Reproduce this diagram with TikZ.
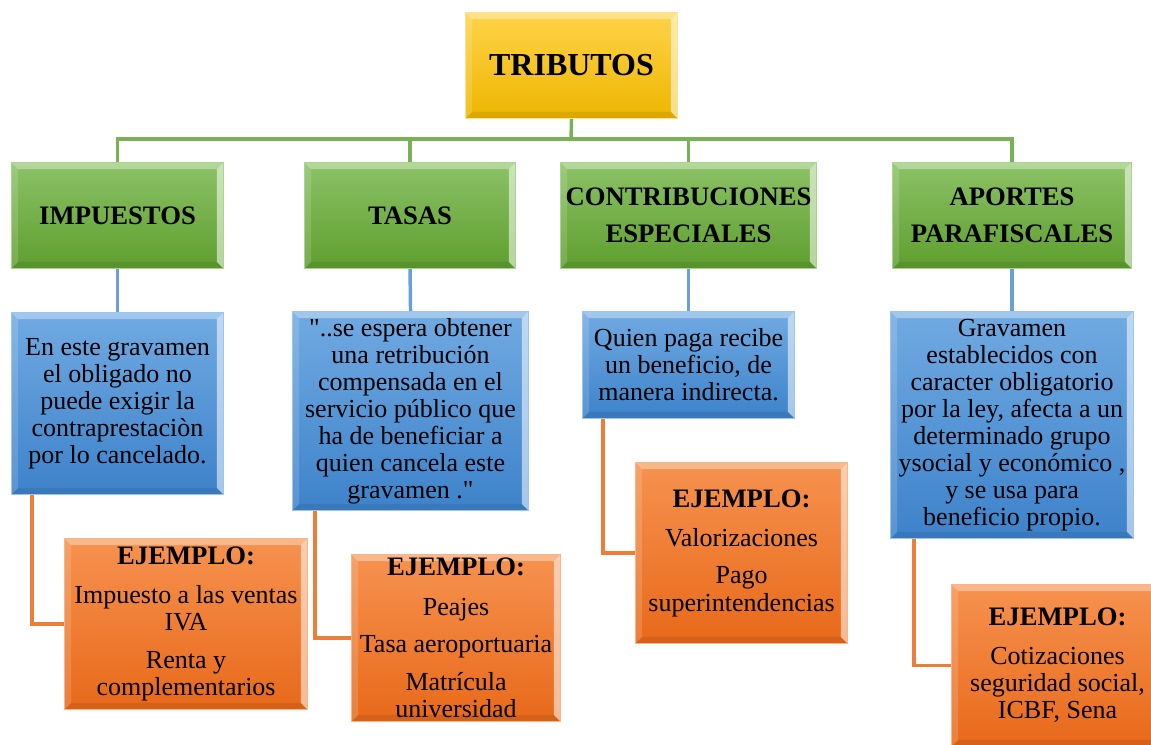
\documentclass[tikz,border=0pt]{standalone}
\usepackage{fontspec}
\setmainfont{Liberation Serif}[Ligatures=TeXOff]
\usetikzlibrary{calc}
\pgfdeclarelayer{background}
\pgfsetlayers{background,main}

\definecolor{TribTop}{HTML}{FFD34A}
\definecolor{TribBot}{HTML}{EDB600}
\definecolor{TribEdge}{HTML}{FFE38C}
\definecolor{GreenTop}{HTML}{8CC267}
\definecolor{GreenBot}{HTML}{5E9E2E}
\definecolor{GreenEdge}{HTML}{A9D68A}
\definecolor{BlueTop}{HTML}{71AAE2}
\definecolor{BlueBot}{HTML}{3D82CA}
\definecolor{BlueEdge}{HTML}{9CC6EE}
\definecolor{OrangeTop}{HTML}{F6924F}
\definecolor{OrangeBot}{HTML}{E8691A}
\definecolor{OrangeEdge}{HTML}{F9B58A}
\definecolor{GreenLine}{HTML}{79B254}
\definecolor{BlueLine}{HTML}{6A9FD8}
\definecolor{OrangeLine}{HTML}{EE7D38}

\newcommand{\bev}{5pt}
\newcommand{\ejemplo}{{\fontsize{20}{20.3}\selectfont\bfseries EJEMPLO:}}

\begin{document}
\begin{tikzpicture}[x=0.75pt, y=-0.75pt,
    every node/.style={inner sep=0pt, align=center, text=black},
    boxsize/.style 2 args={minimum width=#1*0.75pt, minimum height=#2*0.75pt, anchor=north west},
    bevel/.style={line width=0.8pt, path picture={
        \path (path picture bounding box.north west) coordinate (bnw)
              (path picture bounding box.north east) coordinate (bne)
              (path picture bounding box.south west) coordinate (bsw)
              (path picture bounding box.south east) coordinate (bse);
        \fill[white, opacity=0.35] (bnw) -- (bne) -- ($(bne)+(-\bev,-\bev)$) -- ($(bnw)+(\bev,-\bev)$) -- cycle;
        \fill[white, opacity=0.55] (bne) -- (bse) -- ($(bse)+(-\bev,\bev)$) -- ($(bne)+(-\bev,-\bev)$) -- cycle;
        \fill[white, opacity=0.15] (bnw) -- (bsw) -- ($(bsw)+(\bev,\bev)$) -- ($(bnw)+(\bev,-\bev)$) -- cycle;
        \fill[black, opacity=0.08] (bsw) -- (bse) -- ($(bse)+(-\bev,\bev)$) -- ($(bsw)+(\bev,\bev)$) -- cycle;
    }},
    tributo/.style={bevel, top color=TribTop, bottom color=TribBot, draw=TribEdge,
        font=\fontsize{24}{28}\selectfont\bfseries},
    tipo/.style={bevel, top color=GreenTop, bottom color=GreenBot, draw=GreenEdge,
        font=\fontsize{20}{28}\selectfont\bfseries},
    definicion/.style={bevel, top color=BlueTop, bottom color=BlueBot, draw=BlueEdge,
        font=\fontsize{19.5}{20.3}\selectfont},
    ejemplo/.style={bevel, top color=OrangeTop, bottom color=OrangeBot, draw=OrangeEdge,
        font=\fontsize{19.5}{20.3}\selectfont},
    greenline/.style={GreenLine, line width=2.6pt},
    blueline/.style={BlueLine, line width=2.6pt},
    orangeline/.style={OrangeLine, line width=2.4pt}
]
    \useasboundingbox (0,0) rectangle (1151,744);

    % root
    \node[tributo, boxsize={212}{106}] (tributos) at (465,12) {TRIBUTOS};

    % tipos de tributo
    \node[tipo, boxsize={212}{106}] (impuestos) at (11,162) {IMPUESTOS};
    \node[tipo, boxsize={211}{106}] (tasas) at (304,162) {TASAS};
    \node[tipo, boxsize={256}{106}] (contrib) at (560,162) {CONTRIBUCIONES\\ESPECIALES};
    \node[tipo, boxsize={239}{106}] (aportes) at (892,162) {APORTES\\PARAFISCALES};

    % definiciones
    \node[definicion, boxsize={212}{182}] (defimp) at (11,312)
        {En este gravamen\\el obligado no\\puede exigir la\\contraprestaciòn\\por lo cancelado.};
    \node[definicion, boxsize={236}{199}] (deftas) at (292,311)
        {"..se espera obtener\\una retribución\\compensada en el\\servicio público que\\ha de beneficiar a\\quien cancela este\\gravamen ."};
    \node[definicion, boxsize={212}{107}] (defcon) at (582,311)
        {Quien paga recibe\\un beneficio, de\\manera indirecta.};
    \node[definicion, boxsize={243}{227}] (defapo) at (890,311)
        {Gravamen\\establecidos con\\caracter obligatorio\\por la ley, afecta a un\\determinado grupo\\ysocial y económico ,\\y se usa para\\beneficio propio.};

    % ejemplos
    \node[ejemplo, boxsize={243}{171}] (ej1) at (64,538)
        {\ejemplo\\[9pt]Impuesto a las ventas\\IVA\\[8pt]Renta y\\complementarios};
    \node[ejemplo, boxsize={209}{167}] (ej2) at (351,554)
        {\ejemplo\\[9pt]Peajes\\[8pt]Tasa aeroportuaria\\[8pt]Matrícula\\universidad};
    \node[ejemplo, boxsize={212}{181}] (ej3) at (635,462)
        {\ejemplo\\[9pt]Valorizaciones\\[8pt]Pago\\superintendencias};
    \node[ejemplo, boxsize={212}{162}] (ej4) at (951,584)
        {\ejemplo\\[9pt]Cotizaciones\\seguridad social,\\ICBF, Sena};

    \coordinate (bus) at (571,139);

    \begin{pgfonlayer}{background}
        \draw[greenline] (tributos.south) -- (bus);
        \foreach \n in {impuestos,tasas,contrib,aportes}
            \draw[greenline] (\n.north) |- (bus);
        \foreach \g/\b in {impuestos/defimp, tasas/deftas, contrib/defcon, aportes/defapo}
            \draw[blueline] (\g.south) -- (\b.north);
        \foreach \b/\e/\d in {defimp/ej1/21, deftas/ej2/23, defcon/ej3/21, defapo/ej4/24}
            \draw[orangeline] ($(\b.south west)+(\d,0)$) |- (\e.west);
    \end{pgfonlayer}
\end{tikzpicture}
\end{document}
